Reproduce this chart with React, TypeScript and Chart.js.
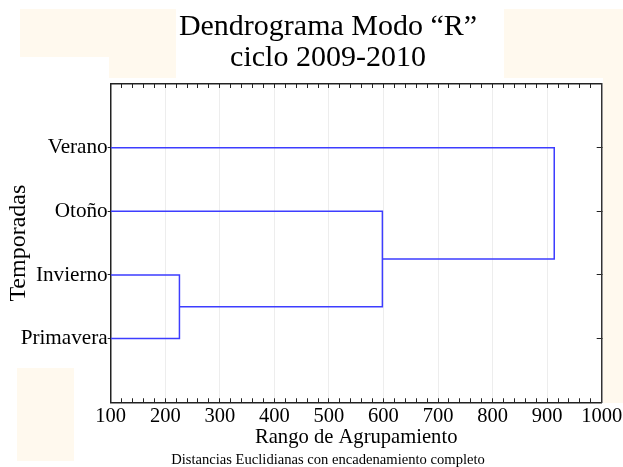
import React, { useEffect, useRef } from "react";
import { Chart, registerables } from "chart.js";

Chart.register(...registerables);

// ---- data ----
const leafLabels = ["Primavera", "Invierno", "Otoño", "Verano"]; // y = 1..4 (bottom to top)
const leafPositions = [1, 2, 3, 4];
// merges: node ids 0..3 are leaves, 4.. are merges in order
const mergeHeights = [226, 598, 913];
const mergeUpper = [1, 2, 3];
const mergeLower = [0, 4, 5];
const xMin = 100;
const xMax = 1000;
const xStep = 100;
const xMinorStep = 20;
const yMin = 0;
const yMax = 5;

const titleLines = ["Dendrograma Modo \u201cR\u201d", "ciclo 2009-2010"];
const xTitle = "Rango de Agrupamiento";
const yTitle = "Temporadas";
const footnote = "Distancias Euclidianas con encadenamiento completo";

const FONT = "'Liberation Serif', 'Times New Roman', serif";
const LINE = "#3d3dff";

function buildLinks() {
  const nodeX: number[] = leafPositions.map(() => xMin);
  const nodeY: number[] = leafPositions.slice();
  const links: { x: number; y: number }[][] = [];
  mergeHeights.forEach((h, i) => {
    const a = mergeUpper[i];
    const b = mergeLower[i];
    links.push([
      { x: nodeX[a], y: nodeY[a] },
      { x: h, y: nodeY[a] },
      { x: h, y: nodeY[b] },
      { x: nodeX[b], y: nodeY[b] },
    ]);
    nodeX.push(h);
    nodeY.push((nodeY[a] + nodeY[b]) / 2);
  });
  return links;
}

const CW = 656;
const CH = 470;

export default function App() {
  const ref = useRef<HTMLCanvasElement | null>(null);

  useEffect(() => {
    if (!ref.current) return;
    const links = buildLinks();
    const keepCats = (s: any) => {
      s.ticks = s.ticks.filter((t: any) => t.value >= 1 && t.value <= leafLabels.length);
    };
    const chart = new Chart(ref.current, {
      type: "line",
      data: {
        datasets: links.map((pts) => ({
          data: pts,
          borderColor: LINE,
          borderWidth: 1.5,
          pointRadius: 0,
          tension: 0,
          fill: false,
          xAxisID: "x",
          yAxisID: "y",
        })),
      },
      options: {
        animation: false,
        responsive: false,
        devicePixelRatio: 1,
        layout: { padding: 0 },
        plugins: {
          legend: { display: false },
          tooltip: { enabled: false },
          title: {
            display: true,
            text: titleLines,
            color: "#000",
            font: { family: FONT, size: 30, weight: "normal", lineHeight: 1.05 },
            padding: { top: 11, bottom: 10 },
          },
          subtitle: {
            display: true,
            position: "bottom",
            text: footnote,
            color: "#000",
            font: { family: FONT, size: 14.6, weight: "normal", lineHeight: 1.2 },
            padding: { top: 0, bottom: 1.3 },
          },
        },
        scales: {
          x: {
            type: "linear",
            position: "bottom",
            weight: 1,
            min: xMin,
            max: xMax,
            ticks: {
              stepSize: xStep,
              color: "#000",
              font: { family: FONT, size: 20.5 },
              padding: 2,
              maxRotation: 0,
              autoSkip: false,
              callback: (v: any) => String(v),
            },
            grid: { color: "rgba(0,0,0,0.07)", drawTicks: false, lineWidth: 1 },
            border: { display: true, color: "#222", width: 1.5 },
            title: {
              display: true,
              text: xTitle,
              color: "#000",
              font: { family: FONT, size: 20.6, lineHeight: 1.2 },
              padding: { top: 0, bottom: 1.3 },
            },
            afterFit: (s: any) => {
              s.height = 48.9;
            },
          },
          xMinor: {
            type: "linear",
            position: "bottom",
            weight: 0,
            min: xMin,
            max: xMax,
            ticks: { stepSize: xMinorStep, display: false },
            grid: { drawOnChartArea: false, tickLength: -4, tickColor: "#222", lineWidth: 1 },
            border: { display: false },
            afterFit: (s: any) => {
              s.height = 0;
            },
          },
          xTop: {
            type: "linear",
            position: "top",
            weight: 0,
            min: xMin,
            max: xMax,
            ticks: { stepSize: xMinorStep, display: false },
            grid: { drawOnChartArea: false, tickLength: -4, tickColor: "#222", lineWidth: 1 },
            border: { display: true, color: "#222", width: 1.5 },
            afterFit: (s: any) => {
              s.height = 0;
            },
          },
          y: {
            type: "linear",
            position: "left",
            min: yMin,
            max: yMax,
            afterBuildTicks: keepCats,
            ticks: {
              stepSize: 1,
              color: "#000",
              font: { family: FONT, size: 21.2 },
              padding: 0,
              callback: (v: any) => leafLabels[Number(v) - 1] ?? "",
            },
            grid: { drawOnChartArea: false, tickLength: 3, tickColor: "#222" },
            border: { display: true, color: "#222", width: 1.5 },
            title: {
              display: true,
              text: yTitle,
              color: "#000",
              font: { family: FONT, size: 24, lineHeight: 1.2 },
              padding: { top: 4.4, bottom: 0 },
            },
            afterFit: (s: any) => {
              s.width = 110.7;
            },
          },
          yRight: {
            type: "linear",
            position: "right",
            min: yMin,
            max: yMax,
            afterBuildTicks: keepCats,
            ticks: { stepSize: 1, display: false },
            grid: { drawOnChartArea: false, tickLength: -5, tickColor: "#222" },
            border: { display: true, color: "#333", width: 1.5 },
            afterFit: (s: any) => {
              s.width = CW - 601.7;
            },
          },
        },
      },
    } as any);
    return () => chart.destroy();
  }, []);

  const cream = "#fff9ee";
  const rect = (l: number, t: number, w: number, h: number) => (
    <div style={{ position: "absolute", left: l, top: t, width: w, height: h, background: cream }} />
  );

  return (
    <div
      style={{
        position: "absolute",
        left: 0,
        top: 0,
        width: 623,
        height: 467,
        overflow: "hidden",
        background: "#fff",
      }}
    >
      {rect(20, 9, 156, 48)}
      {rect(109, 57, 67, 21)}
      {rect(504, 9, 119, 69)}
      {rect(603, 78, 20, 325)}
      {rect(17, 368, 57, 93)}
      <canvas
        ref={ref}
        width={CW}
        height={CH}
        style={{ position: "absolute", left: 0, top: 0, width: CW, height: CH }}
      />
    </div>
  );
}
